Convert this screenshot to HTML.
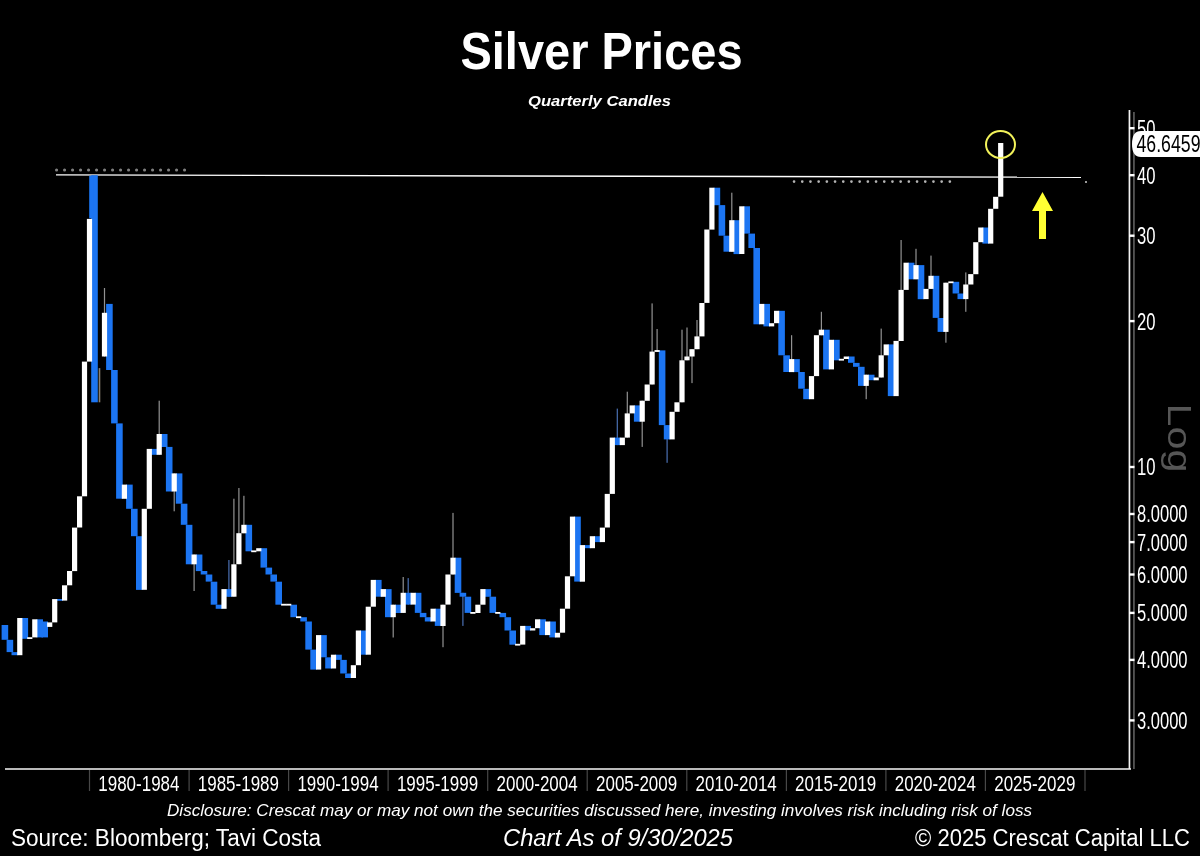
<!DOCTYPE html>
<html lang="en"><head><meta charset="utf-8"><title>Silver Prices</title>
<style>html,body{margin:0;padding:0;background:#000;}body{width:1200px;height:856px;overflow:hidden;}svg{display:block;}text{font-family:"Liberation Sans",sans-serif;fill:#fff;}.ax{font-size:22.6px;}.ay{font-size:23.6px;}.it{font-style:italic;}</style></head><body>
<svg width="1200" height="856" viewBox="0 0 1200 856">
<defs><filter id="bl" x="-5%" y="-5%" width="110%" height="110%"><feGaussianBlur stdDeviation="0.55"/></filter></defs>
<rect width="1200" height="856" fill="#000"/>
<text x="460.5" y="68.5" font-size="52" font-weight="bold" textLength="282" lengthAdjust="spacingAndGlyphs">Silver Prices</text>
<text x="528" y="105.5" font-size="14.5" font-weight="bold" class="it" textLength="143" lengthAdjust="spacingAndGlyphs">Quarterly Candles</text>
<line x1="56.5" y1="170" x2="186" y2="170" stroke="#808080" stroke-width="3" stroke-linecap="round" stroke-dasharray="0.1 7.9"/>
<line x1="56" y1="174.9" x2="1081" y2="177.3" stroke="#fff" stroke-width="1.4"/>
<line x1="794" y1="181.6" x2="952" y2="181.6" stroke="#b4b4b4" stroke-width="2.6" stroke-linecap="round" stroke-dasharray="0.1 8.1"/>
<rect x="1085" y="181" width="2" height="2" fill="#999"/>
<g id="candles" filter="url(#bl)">
<rect x="103.9" y="288.0" width="1.2" height="68.5" fill="#d0d0d0" opacity="0.7"/>
<rect x="158.6" y="400.7" width="1.2" height="54.0" fill="#d0d0d0" opacity="0.7"/>
<rect x="173.6" y="473.4" width="1.2" height="37.9" fill="#d0d0d0" opacity="0.7"/>
<rect x="193.5" y="554.5" width="1.2" height="36.5" fill="#d0d0d0" opacity="0.7"/>
<rect x="228.3" y="560.0" width="1.2" height="36.7" fill="#6aa0ff" opacity="0.7"/>
<rect x="233.3" y="498.7" width="1.2" height="98.0" fill="#d0d0d0" opacity="0.7"/>
<rect x="238.3" y="488.0" width="1.2" height="76.2" fill="#d0d0d0" opacity="0.7"/>
<rect x="243.3" y="495.8" width="1.2" height="37.4" fill="#d0d0d0" opacity="0.7"/>
<rect x="392.6" y="604.7" width="1.2" height="32.8" fill="#d0d0d0" opacity="0.7"/>
<rect x="402.6" y="577.0" width="1.2" height="35.9" fill="#d0d0d0" opacity="0.7"/>
<rect x="407.6" y="578.1" width="1.2" height="26.6" fill="#6aa0ff" opacity="0.7"/>
<rect x="442.4" y="604.7" width="1.2" height="42.5" fill="#d0d0d0" opacity="0.7"/>
<rect x="452.4" y="512.9" width="1.2" height="61.6" fill="#d0d0d0" opacity="0.7"/>
<rect x="462.3" y="592.8" width="1.2" height="33.1" fill="#6aa0ff" opacity="0.7"/>
<rect x="616.7" y="408.6" width="1.2" height="36.5" fill="#6aa0ff" opacity="0.7"/>
<rect x="626.7" y="391.7" width="1.2" height="45.9" fill="#d0d0d0" opacity="0.7"/>
<rect x="641.6" y="400.7" width="1.2" height="46.2" fill="#d0d0d0" opacity="0.7"/>
<rect x="651.5" y="303.4" width="1.2" height="81.0" fill="#d0d0d0" opacity="0.7"/>
<rect x="656.5" y="329.0" width="1.2" height="22.9" fill="#d0d0d0" opacity="0.7"/>
<rect x="666.5" y="425.1" width="1.2" height="37.7" fill="#6aa0ff" opacity="0.7"/>
<rect x="681.4" y="329.7" width="1.2" height="72.6" fill="#d0d0d0" opacity="0.7"/>
<rect x="686.4" y="327.5" width="1.2" height="32.8" fill="#d0d0d0" opacity="0.7"/>
<rect x="691.4" y="349.2" width="1.2" height="33.9" fill="#d0d0d0" opacity="0.7"/>
<rect x="696.4" y="320.0" width="1.2" height="29.2" fill="#d0d0d0" opacity="0.7"/>
<rect x="731.2" y="192.7" width="1.2" height="59.0" fill="#d0d0d0" opacity="0.7"/>
<rect x="791.0" y="335.2" width="1.2" height="36.8" fill="#d0d0d0" opacity="0.7"/>
<rect x="820.8" y="311.8" width="1.2" height="23.4" fill="#d0d0d0" opacity="0.7"/>
<rect x="865.6" y="374.7" width="1.2" height="24.5" fill="#d0d0d0" opacity="0.7"/>
<rect x="880.6" y="328.6" width="1.2" height="48.9" fill="#d0d0d0" opacity="0.7"/>
<rect x="900.5" y="240.0" width="1.2" height="101.0" fill="#d0d0d0" opacity="0.7"/>
<rect x="915.4" y="248.8" width="1.2" height="30.5" fill="#d0d0d0" opacity="0.7"/>
<rect x="930.4" y="255.6" width="1.2" height="33.4" fill="#d0d0d0" opacity="0.7"/>
<rect x="945.3" y="282.7" width="1.2" height="60.0" fill="#d0d0d0" opacity="0.7"/>
<rect x="965.2" y="272.4" width="1.2" height="39.4" fill="#d0d0d0" opacity="0.7"/>
<rect x="1.6" y="625.0" width="6.6" height="14.8" fill="#1b74f2"/>
<rect x="6.6" y="639.8" width="6.6" height="12.3" fill="#1b74f2"/>
<rect x="11.5" y="652.1" width="6.6" height="3.1" fill="#1b74f2"/>
<rect x="21.5" y="618.0" width="6.6" height="20.8" fill="#1b74f2"/>
<rect x="36.4" y="619.3" width="6.6" height="18.1" fill="#1b74f2"/>
<rect x="41.4" y="621.5" width="6.6" height="15.9" fill="#1b74f2"/>
<rect x="56.3" y="599.0" width="6.6" height="1.8" fill="#1b74f2"/>
<rect x="91.2" y="175.2" width="6.6" height="227.1" fill="#1b74f2"/>
<rect x="89.2" y="175.8" width="4" height="42.5" fill="#1b74f2"/>
<rect x="106.1" y="303.9" width="6.6" height="66.1" fill="#1b74f2"/>
<rect x="111.1" y="370.0" width="6.6" height="53.4" fill="#1b74f2"/>
<rect x="116.1" y="423.4" width="6.6" height="75.3" fill="#1b74f2"/>
<rect x="126.1" y="484.6" width="6.6" height="24.2" fill="#1b74f2"/>
<rect x="131.0" y="508.8" width="6.6" height="27.4" fill="#1b74f2"/>
<rect x="136.0" y="536.2" width="6.6" height="53.7" fill="#1b74f2"/>
<rect x="150.9" y="448.9" width="6.6" height="5.9" fill="#1b74f2"/>
<rect x="160.9" y="434.0" width="6.6" height="13.0" fill="#1b74f2"/>
<rect x="165.9" y="446.9" width="6.6" height="44.6" fill="#1b74f2"/>
<rect x="175.8" y="473.4" width="6.6" height="30.3" fill="#1b74f2"/>
<rect x="180.8" y="503.7" width="6.6" height="21.1" fill="#1b74f2"/>
<rect x="185.8" y="524.8" width="6.6" height="39.5" fill="#1b74f2"/>
<rect x="195.8" y="554.5" width="6.6" height="16.6" fill="#1b74f2"/>
<rect x="200.7" y="571.0" width="6.6" height="3.5" fill="#1b74f2"/>
<rect x="205.7" y="574.5" width="6.6" height="7.1" fill="#1b74f2"/>
<rect x="210.7" y="581.7" width="6.6" height="23.0" fill="#1b74f2"/>
<rect x="215.7" y="604.7" width="6.6" height="4.1" fill="#1b74f2"/>
<rect x="225.6" y="589.1" width="6.6" height="7.7" fill="#1b74f2"/>
<rect x="245.5" y="524.8" width="6.6" height="26.5" fill="#1b74f2"/>
<rect x="260.5" y="548.2" width="6.6" height="19.4" fill="#1b74f2"/>
<rect x="265.5" y="567.6" width="6.6" height="6.9" fill="#1b74f2"/>
<rect x="270.4" y="574.5" width="6.6" height="7.1" fill="#1b74f2"/>
<rect x="275.4" y="581.7" width="6.6" height="23.0" fill="#1b74f2"/>
<rect x="290.4" y="604.7" width="6.6" height="12.5" fill="#1b74f2"/>
<rect x="300.3" y="617.2" width="6.6" height="4.3" fill="#1b74f2"/>
<rect x="305.3" y="621.5" width="6.6" height="28.1" fill="#1b74f2"/>
<rect x="310.3" y="649.6" width="6.6" height="20.0" fill="#1b74f2"/>
<rect x="320.2" y="635.1" width="6.6" height="22.2" fill="#1b74f2"/>
<rect x="325.2" y="657.3" width="6.6" height="11.2" fill="#1b74f2"/>
<rect x="335.2" y="654.7" width="6.6" height="5.2" fill="#1b74f2"/>
<rect x="340.2" y="659.9" width="6.6" height="13.6" fill="#1b74f2"/>
<rect x="345.1" y="673.5" width="6.6" height="4.5" fill="#1b74f2"/>
<rect x="360.1" y="630.5" width="6.6" height="24.2" fill="#1b74f2"/>
<rect x="375.0" y="579.9" width="6.6" height="16.8" fill="#1b74f2"/>
<rect x="385.0" y="589.1" width="6.6" height="28.1" fill="#1b74f2"/>
<rect x="394.9" y="604.7" width="6.6" height="8.3" fill="#1b74f2"/>
<rect x="404.9" y="592.8" width="6.6" height="11.8" fill="#1b74f2"/>
<rect x="414.8" y="592.8" width="6.6" height="20.1" fill="#1b74f2"/>
<rect x="419.8" y="612.9" width="6.6" height="4.3" fill="#1b74f2"/>
<rect x="424.8" y="617.2" width="6.6" height="4.3" fill="#1b74f2"/>
<rect x="434.8" y="608.7" width="6.6" height="17.2" fill="#1b74f2"/>
<rect x="454.7" y="557.7" width="6.6" height="35.2" fill="#1b74f2"/>
<rect x="459.6" y="592.8" width="6.6" height="3.9" fill="#1b74f2"/>
<rect x="464.6" y="596.7" width="6.6" height="16.2" fill="#1b74f2"/>
<rect x="484.5" y="589.1" width="6.6" height="7.7" fill="#1b74f2"/>
<rect x="489.5" y="596.7" width="6.6" height="16.2" fill="#1b74f2"/>
<rect x="499.5" y="612.9" width="6.6" height="4.3" fill="#1b74f2"/>
<rect x="504.5" y="617.2" width="6.6" height="13.3" fill="#1b74f2"/>
<rect x="509.4" y="630.5" width="6.6" height="14.2" fill="#1b74f2"/>
<rect x="524.4" y="625.9" width="6.6" height="4.5" fill="#1b74f2"/>
<rect x="539.3" y="619.3" width="6.6" height="15.8" fill="#1b74f2"/>
<rect x="549.3" y="621.5" width="6.6" height="15.9" fill="#1b74f2"/>
<rect x="574.2" y="516.6" width="6.6" height="65.0" fill="#1b74f2"/>
<rect x="584.1" y="545.1" width="6.6" height="3.1" fill="#1b74f2"/>
<rect x="594.1" y="536.2" width="6.6" height="5.9" fill="#1b74f2"/>
<rect x="614.0" y="437.6" width="6.6" height="7.5" fill="#1b74f2"/>
<rect x="633.9" y="405.4" width="6.6" height="16.3" fill="#1b74f2"/>
<rect x="658.8" y="350.4" width="6.6" height="74.7" fill="#1b74f2"/>
<rect x="663.8" y="425.1" width="6.6" height="14.3" fill="#1b74f2"/>
<rect x="713.6" y="187.7" width="6.6" height="17.5" fill="#1b74f2"/>
<rect x="718.6" y="205.1" width="6.6" height="30.6" fill="#1b74f2"/>
<rect x="723.5" y="235.7" width="6.6" height="16.0" fill="#1b74f2"/>
<rect x="733.5" y="220.2" width="6.6" height="33.9" fill="#1b74f2"/>
<rect x="743.4" y="206.3" width="6.6" height="27.3" fill="#1b74f2"/>
<rect x="748.4" y="233.6" width="6.6" height="14.4" fill="#1b74f2"/>
<rect x="753.4" y="248.0" width="6.6" height="76.3" fill="#1b74f2"/>
<rect x="763.4" y="303.9" width="6.6" height="22.5" fill="#1b74f2"/>
<rect x="778.3" y="310.8" width="6.6" height="44.5" fill="#1b74f2"/>
<rect x="783.3" y="355.3" width="6.6" height="16.7" fill="#1b74f2"/>
<rect x="793.2" y="359.1" width="6.6" height="13.0" fill="#1b74f2"/>
<rect x="798.2" y="372.0" width="6.6" height="16.7" fill="#1b74f2"/>
<rect x="803.2" y="388.8" width="6.6" height="10.4" fill="#1b74f2"/>
<rect x="823.1" y="329.7" width="6.6" height="39.7" fill="#1b74f2"/>
<rect x="833.1" y="339.8" width="6.6" height="20.5" fill="#1b74f2"/>
<rect x="848.0" y="356.5" width="6.6" height="6.3" fill="#1b74f2"/>
<rect x="853.0" y="362.9" width="6.6" height="3.9" fill="#1b74f2"/>
<rect x="858.0" y="366.8" width="6.6" height="19.1" fill="#1b74f2"/>
<rect x="867.9" y="374.7" width="6.6" height="5.5" fill="#1b74f2"/>
<rect x="887.8" y="344.4" width="6.6" height="51.7" fill="#1b74f2"/>
<rect x="907.8" y="262.7" width="6.6" height="16.6" fill="#1b74f2"/>
<rect x="917.7" y="265.1" width="6.6" height="34.1" fill="#1b74f2"/>
<rect x="932.7" y="275.8" width="6.6" height="42.1" fill="#1b74f2"/>
<rect x="937.6" y="318.0" width="6.6" height="13.9" fill="#1b74f2"/>
<rect x="952.6" y="281.8" width="6.6" height="11.7" fill="#1b74f2"/>
<rect x="957.5" y="293.5" width="6.6" height="5.6" fill="#1b74f2"/>
<rect x="982.4" y="227.5" width="6.6" height="16.1" fill="#1b74f2"/>
<rect x="17.2" y="618.0" width="5.2" height="37.2" fill="#ffffff"/>
<rect x="27.2" y="637.2" width="5.2" height="1.8" fill="#ffffff"/>
<rect x="32.2" y="619.3" width="5.2" height="18.1" fill="#ffffff"/>
<rect x="47.1" y="622.4" width="5.2" height="4.5" fill="#ffffff"/>
<rect x="52.1" y="599.1" width="5.2" height="23.3" fill="#ffffff"/>
<rect x="62.0" y="585.3" width="5.2" height="15.3" fill="#ffffff"/>
<rect x="67.0" y="571.0" width="5.2" height="14.3" fill="#ffffff"/>
<rect x="72.0" y="527.6" width="5.2" height="43.5" fill="#ffffff"/>
<rect x="77.0" y="496.3" width="5.2" height="31.2" fill="#ffffff"/>
<rect x="81.9" y="361.6" width="5.2" height="134.7" fill="#ffffff"/>
<rect x="86.9" y="218.9" width="5.2" height="142.7" fill="#ffffff"/>
<rect x="98.7" y="368.1" width="1.6" height="34.2" fill="#8a8070"/>
<rect x="101.9" y="312.8" width="5.2" height="43.7" fill="#ffffff"/>
<rect x="121.8" y="484.6" width="5.2" height="14.2" fill="#ffffff"/>
<rect x="141.7" y="508.8" width="5.2" height="81.0" fill="#ffffff"/>
<rect x="146.7" y="448.9" width="5.2" height="59.9" fill="#ffffff"/>
<rect x="156.6" y="434.0" width="5.2" height="20.8" fill="#ffffff"/>
<rect x="171.6" y="473.4" width="5.2" height="18.1" fill="#ffffff"/>
<rect x="191.5" y="554.5" width="5.2" height="9.8" fill="#ffffff"/>
<rect x="221.4" y="589.1" width="5.2" height="19.7" fill="#ffffff"/>
<rect x="231.3" y="564.3" width="5.2" height="32.4" fill="#ffffff"/>
<rect x="236.3" y="533.2" width="5.2" height="31.0" fill="#ffffff"/>
<rect x="241.3" y="524.8" width="5.2" height="8.5" fill="#ffffff"/>
<rect x="251.2" y="550.4" width="5.2" height="1.8" fill="#ffffff"/>
<rect x="256.2" y="548.2" width="5.2" height="3.1" fill="#ffffff"/>
<rect x="281.1" y="603.8" width="5.2" height="1.8" fill="#ffffff"/>
<rect x="286.1" y="603.8" width="5.2" height="1.8" fill="#ffffff"/>
<rect x="296.0" y="616.3" width="5.2" height="1.8" fill="#ffffff"/>
<rect x="316.0" y="635.1" width="5.2" height="34.5" fill="#ffffff"/>
<rect x="330.9" y="654.7" width="5.2" height="13.8" fill="#ffffff"/>
<rect x="350.8" y="665.2" width="5.2" height="12.8" fill="#ffffff"/>
<rect x="355.8" y="630.5" width="5.2" height="34.7" fill="#ffffff"/>
<rect x="365.7" y="606.7" width="5.2" height="48.0" fill="#ffffff"/>
<rect x="370.7" y="579.9" width="5.2" height="26.8" fill="#ffffff"/>
<rect x="380.7" y="589.1" width="5.2" height="7.7" fill="#ffffff"/>
<rect x="390.6" y="604.7" width="5.2" height="12.5" fill="#ffffff"/>
<rect x="400.6" y="592.8" width="5.2" height="20.1" fill="#ffffff"/>
<rect x="410.6" y="592.8" width="5.2" height="11.8" fill="#ffffff"/>
<rect x="430.5" y="608.7" width="5.2" height="12.8" fill="#ffffff"/>
<rect x="440.4" y="604.7" width="5.2" height="21.3" fill="#ffffff"/>
<rect x="445.4" y="574.5" width="5.2" height="30.1" fill="#ffffff"/>
<rect x="450.4" y="557.7" width="5.2" height="16.8" fill="#ffffff"/>
<rect x="470.3" y="612.0" width="5.2" height="1.8" fill="#ffffff"/>
<rect x="475.3" y="604.7" width="5.2" height="8.3" fill="#ffffff"/>
<rect x="480.3" y="589.1" width="5.2" height="15.6" fill="#ffffff"/>
<rect x="495.2" y="612.0" width="5.2" height="1.8" fill="#ffffff"/>
<rect x="515.1" y="643.8" width="5.2" height="1.8" fill="#ffffff"/>
<rect x="520.1" y="625.9" width="5.2" height="18.7" fill="#ffffff"/>
<rect x="530.1" y="628.2" width="5.2" height="2.3" fill="#ffffff"/>
<rect x="535.0" y="619.3" width="5.2" height="8.9" fill="#ffffff"/>
<rect x="545.0" y="621.5" width="5.2" height="13.6" fill="#ffffff"/>
<rect x="554.9" y="632.8" width="5.2" height="4.7" fill="#ffffff"/>
<rect x="559.9" y="608.7" width="5.2" height="24.0" fill="#ffffff"/>
<rect x="564.9" y="576.3" width="5.2" height="32.4" fill="#ffffff"/>
<rect x="569.9" y="516.6" width="5.2" height="59.7" fill="#ffffff"/>
<rect x="579.8" y="545.1" width="5.2" height="36.6" fill="#ffffff"/>
<rect x="589.8" y="536.2" width="5.2" height="12.0" fill="#ffffff"/>
<rect x="599.8" y="527.6" width="5.2" height="14.5" fill="#ffffff"/>
<rect x="604.7" y="493.9" width="5.2" height="33.6" fill="#ffffff"/>
<rect x="609.7" y="437.6" width="5.2" height="56.3" fill="#ffffff"/>
<rect x="619.7" y="437.6" width="5.2" height="7.5" fill="#ffffff"/>
<rect x="624.7" y="413.4" width="5.2" height="24.2" fill="#ffffff"/>
<rect x="629.6" y="405.4" width="5.2" height="8.0" fill="#ffffff"/>
<rect x="639.6" y="400.7" width="5.2" height="21.0" fill="#ffffff"/>
<rect x="644.6" y="384.5" width="5.2" height="16.3" fill="#ffffff"/>
<rect x="649.5" y="351.6" width="5.2" height="32.9" fill="#ffffff"/>
<rect x="654.5" y="350.1" width="5.2" height="1.8" fill="#ffffff"/>
<rect x="669.5" y="411.8" width="5.2" height="27.6" fill="#ffffff"/>
<rect x="674.4" y="402.3" width="5.2" height="9.5" fill="#ffffff"/>
<rect x="679.4" y="360.3" width="5.2" height="42.0" fill="#ffffff"/>
<rect x="684.4" y="356.5" width="5.2" height="3.8" fill="#ffffff"/>
<rect x="689.4" y="349.2" width="5.2" height="7.3" fill="#ffffff"/>
<rect x="694.4" y="336.4" width="5.2" height="12.8" fill="#ffffff"/>
<rect x="699.3" y="303.0" width="5.2" height="33.4" fill="#ffffff"/>
<rect x="704.3" y="229.5" width="5.2" height="73.4" fill="#ffffff"/>
<rect x="709.3" y="187.7" width="5.2" height="41.9" fill="#ffffff"/>
<rect x="729.2" y="220.2" width="5.2" height="31.6" fill="#ffffff"/>
<rect x="739.2" y="206.3" width="5.2" height="47.7" fill="#ffffff"/>
<rect x="759.1" y="303.9" width="5.2" height="20.4" fill="#ffffff"/>
<rect x="769.0" y="323.2" width="5.2" height="3.2" fill="#ffffff"/>
<rect x="774.0" y="310.8" width="5.2" height="12.4" fill="#ffffff"/>
<rect x="789.0" y="359.1" width="5.2" height="13.0" fill="#ffffff"/>
<rect x="808.9" y="376.1" width="5.2" height="23.1" fill="#ffffff"/>
<rect x="813.9" y="335.2" width="5.2" height="40.9" fill="#ffffff"/>
<rect x="818.8" y="329.7" width="5.2" height="5.6" fill="#ffffff"/>
<rect x="828.8" y="339.8" width="5.2" height="29.6" fill="#ffffff"/>
<rect x="838.8" y="358.8" width="5.2" height="1.8" fill="#ffffff"/>
<rect x="843.7" y="356.5" width="5.2" height="2.5" fill="#ffffff"/>
<rect x="863.6" y="374.7" width="5.2" height="11.2" fill="#ffffff"/>
<rect x="873.6" y="377.5" width="5.2" height="2.8" fill="#ffffff"/>
<rect x="878.6" y="355.3" width="5.2" height="22.2" fill="#ffffff"/>
<rect x="883.6" y="344.4" width="5.2" height="10.9" fill="#ffffff"/>
<rect x="893.5" y="340.9" width="5.2" height="55.2" fill="#ffffff"/>
<rect x="898.5" y="289.9" width="5.2" height="51.1" fill="#ffffff"/>
<rect x="903.5" y="262.7" width="5.2" height="27.2" fill="#ffffff"/>
<rect x="913.4" y="265.1" width="5.2" height="14.2" fill="#ffffff"/>
<rect x="923.4" y="288.9" width="5.2" height="10.2" fill="#ffffff"/>
<rect x="928.4" y="275.8" width="5.2" height="13.1" fill="#ffffff"/>
<rect x="943.3" y="282.7" width="5.2" height="49.2" fill="#ffffff"/>
<rect x="948.3" y="281.4" width="5.2" height="1.8" fill="#ffffff"/>
<rect x="963.2" y="284.5" width="5.2" height="14.6" fill="#ffffff"/>
<rect x="968.2" y="274.1" width="5.2" height="10.4" fill="#ffffff"/>
<rect x="973.2" y="242.2" width="5.2" height="32.0" fill="#ffffff"/>
<rect x="978.2" y="227.5" width="5.2" height="14.7" fill="#ffffff"/>
<rect x="988.1" y="208.8" width="5.2" height="34.8" fill="#ffffff"/>
<rect x="993.1" y="196.8" width="5.2" height="12.0" fill="#ffffff"/>
<rect x="998.1" y="143.0" width="5.2" height="53.7" fill="#ffffff"/>
</g>
<ellipse cx="1000.5" cy="144.5" rx="14.5" ry="13.5" fill="none" stroke="#f2f25a" stroke-width="2"/>
<path d="M1042.5 192 L1053 211 L1046 211 L1046 239 L1039 239 L1039 211 L1032 211 Z" fill="#ffff33"/>
<rect x="5" y="768.2" width="1126" height="1.6" fill="#e6e6e6"/>
<rect x="1128.6" y="110" width="1.7" height="659" fill="#f2f2f2"/>
<rect x="1133.4" y="112" width="1.1" height="657" fill="#8a8a8a"/>
<rect x="88.9" y="770" width="1.2" height="21" fill="#484848"/>
<rect x="188.5" y="770" width="1.2" height="21" fill="#484848"/>
<rect x="288.0" y="770" width="1.2" height="21" fill="#484848"/>
<rect x="387.5" y="770" width="1.2" height="21" fill="#484848"/>
<rect x="487.1" y="770" width="1.2" height="21" fill="#484848"/>
<rect x="586.6" y="770" width="1.2" height="21" fill="#484848"/>
<rect x="686.2" y="770" width="1.2" height="21" fill="#484848"/>
<rect x="785.8" y="770" width="1.2" height="21" fill="#484848"/>
<rect x="885.3" y="770" width="1.2" height="21" fill="#484848"/>
<rect x="984.8" y="770" width="1.2" height="21" fill="#484848"/>
<rect x="1084.4" y="770" width="1.2" height="21" fill="#484848"/>
<text class="ax" x="98.3" y="791.3" textLength="81.2" lengthAdjust="spacingAndGlyphs">1980-1984</text>
<text class="ax" x="197.8" y="791.3" textLength="81.2" lengthAdjust="spacingAndGlyphs">1985-1989</text>
<text class="ax" x="297.4" y="791.3" textLength="81.2" lengthAdjust="spacingAndGlyphs">1990-1994</text>
<text class="ax" x="396.9" y="791.3" textLength="81.2" lengthAdjust="spacingAndGlyphs">1995-1999</text>
<text class="ax" x="496.5" y="791.3" textLength="81.2" lengthAdjust="spacingAndGlyphs">2000-2004</text>
<text class="ax" x="596.0" y="791.3" textLength="81.2" lengthAdjust="spacingAndGlyphs">2005-2009</text>
<text class="ax" x="695.6" y="791.3" textLength="81.2" lengthAdjust="spacingAndGlyphs">2010-2014</text>
<text class="ax" x="795.1" y="791.3" textLength="81.2" lengthAdjust="spacingAndGlyphs">2015-2019</text>
<text class="ax" x="894.7" y="791.3" textLength="81.2" lengthAdjust="spacingAndGlyphs">2020-2024</text>
<text class="ax" x="994.2" y="791.3" textLength="81.2" lengthAdjust="spacingAndGlyphs">2025-2029</text>
<rect x="1129" y="127.0" width="5.5" height="2.4" fill="#fff"/>
<text class="ay" x="1137" y="136.6" textLength="18.5" lengthAdjust="spacingAndGlyphs">50</text>
<rect x="1129" y="174.0" width="5.5" height="2.4" fill="#fff"/>
<text class="ay" x="1137" y="183.6" textLength="18.5" lengthAdjust="spacingAndGlyphs">40</text>
<rect x="1129" y="234.5" width="5.5" height="2.4" fill="#fff"/>
<text class="ay" x="1137" y="244.1" textLength="18.5" lengthAdjust="spacingAndGlyphs">30</text>
<rect x="1129" y="319.9" width="5.5" height="2.4" fill="#fff"/>
<text class="ay" x="1137" y="329.5" textLength="18.5" lengthAdjust="spacingAndGlyphs">20</text>
<rect x="1129" y="465.8" width="5.5" height="2.4" fill="#fff"/>
<text class="ay" x="1137" y="475.4" textLength="18.5" lengthAdjust="spacingAndGlyphs">10</text>
<rect x="1129" y="512.8" width="5.5" height="2.4" fill="#fff"/>
<text class="ay" x="1137" y="522.4" textLength="50.5" lengthAdjust="spacingAndGlyphs">8.0000</text>
<rect x="1129" y="540.9" width="5.5" height="2.4" fill="#fff"/>
<text class="ay" x="1137" y="550.5" textLength="50.5" lengthAdjust="spacingAndGlyphs">7.0000</text>
<rect x="1129" y="573.3" width="5.5" height="2.4" fill="#fff"/>
<text class="ay" x="1137" y="582.9" textLength="50.5" lengthAdjust="spacingAndGlyphs">6.0000</text>
<rect x="1129" y="611.7" width="5.5" height="2.4" fill="#fff"/>
<text class="ay" x="1137" y="621.3" textLength="50.5" lengthAdjust="spacingAndGlyphs">5.0000</text>
<rect x="1129" y="658.7" width="5.5" height="2.4" fill="#fff"/>
<text class="ay" x="1137" y="668.3" textLength="50.5" lengthAdjust="spacingAndGlyphs">4.0000</text>
<rect x="1129" y="719.2" width="5.5" height="2.4" fill="#fff"/>
<text class="ay" x="1137" y="728.8" textLength="50.5" lengthAdjust="spacingAndGlyphs">3.0000</text>
<path d="M1200 131 L1141 131 Q1132 131 1132 144 Q1132 157 1141 157 L1200 157 Z" fill="#fff"/>
<text class="ay" x="1136.5" y="152" style="fill:#000" textLength="64" lengthAdjust="spacingAndGlyphs">46.6459</text>
<text x="0" y="0" font-size="33" style="fill:#565656" transform="translate(1168,403.5) rotate(90)" textLength="69" lengthAdjust="spacingAndGlyphs">Log</text>
<text x="167" y="816" font-size="17" class="it" textLength="865" lengthAdjust="spacingAndGlyphs">Disclosure: Crescat may or may not own the securities discussed here, investing involves risk including risk of loss</text>
<text x="11" y="846" font-size="23" textLength="310" lengthAdjust="spacingAndGlyphs">Source: Bloomberg; Tavi Costa</text>
<text x="503" y="846" font-size="23" class="it" textLength="230" lengthAdjust="spacingAndGlyphs">Chart As of 9/30/2025</text>
<text x="915" y="846" font-size="23" textLength="275" lengthAdjust="spacingAndGlyphs">© 2025 Crescat Capital LLC</text>
</svg></body></html>
